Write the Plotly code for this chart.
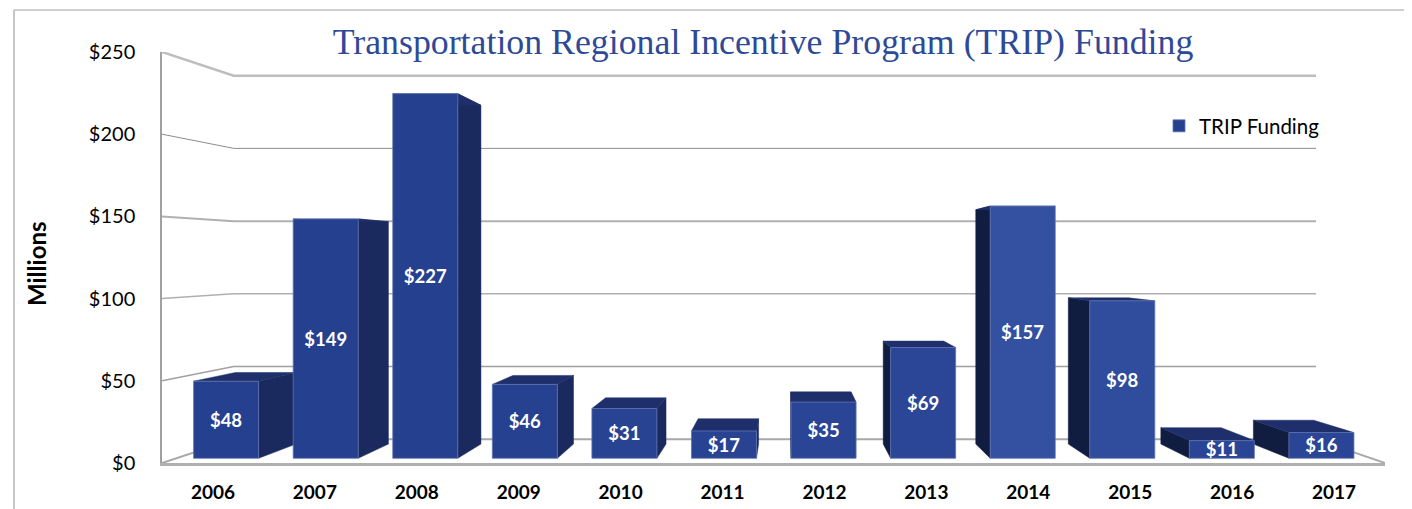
import plotly.graph_objects as go

years = ["2006", "2007", "2008", "2009", "2010", "2011", "2012", "2013", "2014", "2015", "2016", "2017"]
funding = [48, 149, 227, 46, 31, 17, 35, 69, 157, 98, 11, 16]
value_labels = ["$48", "$149", "$227", "$46", "$31", "$17", "$35", "$69", "$157", "$98", "$11", "$16"]
bar_colors = ["#25408F", "#25408F", "#25408F", "#26418F", "#284392", "#284392", "#2A4596",
              "#2B4697", "#3450A0", "#2F4C9D", "#2A4596", "#2A4596"]
y_ticks = [0, 50, 100, 150, 200, 250]
y_tick_labels = ["$0", "$50", "$100", "$150", "$200", "$250"]
grid_colors = ["#a8a8a8", "#a0a0a0", "#b0b0b0", "#b0b0b0", "#8c8c8c", "#bdbdbd"]
grid_widths = [2, 1.5, 1.5, 2, 1, 2.5]

# perspective model of the 3D chart box
VANISH_X, VANISH_V = 5.62, 125.0
S_FRONT, S_BAR_FRONT, S_BAR_BACK, S_WALL = 1.0, 0.977, 0.908, 0.885
BAR_WIDTH = 0.653

# the page body offsets the figure by 8px
PAGE = 8
PLOT_L, PLOT_T, PLOT_W, PLOT_H = 162, 52, 1223, 411


def px(x, s):
    return VANISH_X + (x - VANISH_X) * s


def pv(v, s):
    return VANISH_V + (v - VANISH_V) * s


def paper_x(p):
    return (p - PLOT_L) / PLOT_W


def paper_y(p):
    return (PLOT_T + PLOT_H - p) / PLOT_H


fig = go.Figure()

# walls and gridlines (behind the bars)
for v, c, w in zip(y_ticks, grid_colors, grid_widths):
    fig.add_trace(go.Scatter(
        x=[px(-0.5, S_FRONT), px(-0.5, S_WALL), px(11.5, S_WALL)],
        y=[pv(v, S_FRONT), pv(v, S_WALL), pv(v, S_WALL)],
        mode="lines", line=dict(color=c, width=w), showlegend=False, hoverinfo="skip"))
fig.add_trace(go.Scatter(
    x=[px(11.5, S_WALL), px(11.5, S_FRONT)], y=[pv(0, S_WALL), pv(0, S_FRONT)],
    mode="lines", line=dict(color="#a8a8a8", width=2), showlegend=False, hoverinfo="skip"))

# faces of the bars
faces = {"top": ([], []), "right": ([], []), "left": ([], [])}


def add_face(name, pts):
    fx, fy = faces[name]
    fx.extend([p[0] for p in pts] + [pts[0][0], None])
    fy.extend([p[1] for p in pts] + [pts[0][1], None])


for i, v in enumerate(funding):
    l, r = i - BAR_WIDTH / 2, i + BAR_WIDTH / 2
    f, b = S_BAR_FRONT, S_BAR_BACK
    add_face("top", [(px(l, f), pv(v, f)), (px(r, f), pv(v, f)), (px(r, b), pv(v, b)), (px(l, b), pv(v, b))])
    if px(r, f) < VANISH_X:
        add_face("right", [(px(r, f), pv(v, f)), (px(r, b), pv(v, b)), (px(r, b), pv(0, b)), (px(r, f), pv(0, f))])
    if px(l, f) > VANISH_X:
        add_face("left", [(px(l, f), pv(v, f)), (px(l, b), pv(v, b)), (px(l, b), pv(0, b)), (px(l, f), pv(0, f))])

for name, col in [("right", "#1A2A5E"), ("left", "#101C40"), ("top", "#1E2F6B")]:
    fig.add_trace(go.Scatter(x=faces[name][0], y=faces[name][1], mode="lines", fill="toself",
                             fillcolor=col, line=dict(color=col, width=0.5),
                             showlegend=False, hoverinfo="skip"))

# front faces
base0 = pv(0, S_BAR_FRONT)
fig.add_trace(go.Bar(
    x=[px(i, S_BAR_FRONT) for i in range(len(funding))],
    y=[pv(v, S_BAR_FRONT) - base0 for v in funding],
    base=base0,
    width=BAR_WIDTH * S_BAR_FRONT,
    name="TRIP Funding",
    marker=dict(color=bar_colors, line=dict(color="#5f74b0", width=0.8)),
    text=value_labels,
    textposition="inside",
    insidetextanchor="middle",
    textangle=0,
    constraintext="none",
    textfont=dict(family="Lato", size=18.5, color="white", weight="bold"),
    xaxis="x2", yaxis="y2",
))

XR = [-0.5, 11.5]
YR = [0, 250]
fig.update_layout(
    width=1412, height=509,
    margin=dict(l=PLOT_L - PAGE, r=1412 - (PLOT_L - PAGE) - PLOT_W, t=PLOT_T - PAGE,
                b=509 - (PLOT_T - PAGE) - PLOT_H, autoexpand=False),
    paper_bgcolor="white", plot_bgcolor="rgba(0,0,0,0)",
    title=dict(text="Transportation Regional Incentive Program (TRIP) Funding",
               x=(763 - PAGE) / 1412, xanchor="center", xref="container",
               y=1 - (41 - PAGE) / 509, yanchor="middle", yref="container",
               font=dict(family="Liberation Serif", size=35.8, color="#2E4A96")),
    xaxis=dict(range=XR, tickmode="array", tickvals=list(range(12)), ticktext=years,
               showgrid=False, zeroline=False, showline=True, linecolor="#b0b0b0", linewidth=3,
               ticks="outside", ticklen=10, tickcolor="rgba(0,0,0,0)",
               tickfont=dict(family="Lato", size=19, color="black", weight="bold")),
    yaxis=dict(range=YR, tickmode="array", tickvals=y_ticks, ticktext=y_tick_labels,
               showgrid=False, zeroline=False, showline=True, linecolor="#a0a0a0", linewidth=1.5,
               ticks="outside", ticklen=21, tickcolor="rgba(0,0,0,0)",
               tickfont=dict(family="Lato", size=20, color="black")),
    xaxis2=dict(range=XR, overlaying="x", visible=False),
    yaxis2=dict(range=YR, overlaying="y", visible=False),
    legend=dict(x=paper_x(1159), xanchor="left", y=paper_y(126), yanchor="middle",
                bgcolor="rgba(0,0,0,0)", font=dict(family="Lato", size=20.5, color="black"),
                itemwidth=30),
    showlegend=True,
    annotations=[dict(text="<b>Millions</b>", x=paper_x(36), y=paper_y(264), xanchor="center",
                      yanchor="middle", xref="paper", yref="paper", textangle=-90, showarrow=False,
                      font=dict(family="Lato", size=24, color="black"))],
    shapes=[
        dict(type="line", xref="paper", yref="paper", x0=paper_x(14), x1=paper_x(1420),
             y0=paper_y(10), y1=paper_y(10), line=dict(color="#a0a0a0", width=1)),
        dict(type="line", xref="paper", yref="paper", x0=paper_x(14), x1=paper_x(14),
             y0=paper_y(10), y1=paper_y(515), line=dict(color="#b5b5b5", width=1.5)),
    ],
)

fig.write_html("out.html")
